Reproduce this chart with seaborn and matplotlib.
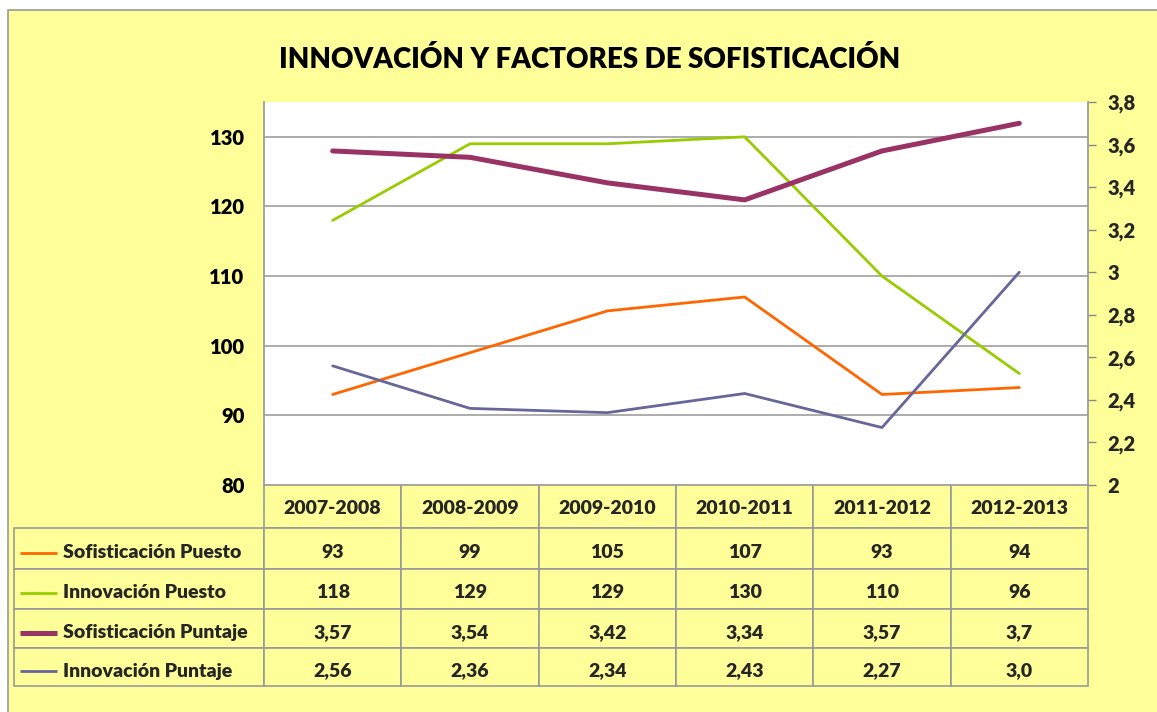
import matplotlib
matplotlib.use("Agg")
import matplotlib.pyplot as plt
from matplotlib.patches import Rectangle
import matplotlib.transforms as mtrans
import seaborn as sns
import pandas as pd

# ---- data ----
periods = ["2007-2008", "2008-2009", "2009-2010", "2010-2011", "2011-2012", "2012-2013"]
sofis_puesto = [93, 99, 105, 107, 93, 94]
innov_puesto = [118, 129, 129, 130, 110, 96]
sofis_puntaje = [3.57, 3.54, 3.42, 3.34, 3.57, 3.70]
innov_puntaje = [2.56, 2.36, 2.34, 2.43, 2.27, 3.00]
series_names = ["Sofisticación Puesto", "Innovación Puesto",
                "Sofisticación Puntaje", "Innovación Puntaje"]
table_text = [
    ["93", "99", "105", "107", "93", "94"],
    ["118", "129", "129", "130", "110", "96"],
    ["3,57", "3,54", "3,42", "3,34", "3,57", "3,7"],
    ["2,56", "2,36", "2,34", "2,43", "2,27", "3,0"],
]
left_ticks = [80, 90, 100, 110, 120, 130]
right_ticks = [2.0, 2.2, 2.4, 2.6, 2.8, 3.0, 3.2, 3.4, 3.6, 3.8]
right_labels = ["2", "2,2", "2,4", "2,6", "2,8", "3", "3,2", "3,4", "3,6", "3,8"]
title = "INNOVACIÓN Y FACTORES DE SOFISTICACIÓN"

colors = ["#FF6600", "#99CC00", "#993366", "#666699"]
widths = [2.0, 2.0, 3.6, 2.0]
YELLOW = "#FFFF99"
GRID = "#A6A6A6"
WEIGHT = "heavy"

sns.set_theme(style="white")
plt.rcParams["font.family"] = ["Lato", "DejaVu Sans"]
plt.rcParams["font.weight"] = WEIGHT

W, H = 1157, 712
fig = plt.figure(figsize=(W / 100, H / 100), dpi=100, facecolor="white")
fig.patches.append(Rectangle((8 / W, -0.05), 1.1, 1 - 10 / H + 0.05,
                             transform=fig.transFigure, facecolor=YELLOW,
                             edgecolor="#999999", linewidth=1.2, zorder=-10))

ax = fig.add_axes([264 / W, 1 - 485 / H, 824 / W, 383 / H])
ax.set_facecolor("white")
ax2 = ax.twinx()

df_left = pd.DataFrame({
    "period": periods * 2,
    "value": sofis_puesto + innov_puesto,
    "serie": [series_names[0]] * 6 + [series_names[1]] * 6,
})
df_right = pd.DataFrame({
    "period": periods * 2,
    "value": sofis_puntaje + innov_puntaje,
    "serie": [series_names[2]] * 6 + [series_names[3]] * 6,
})

for i, name in enumerate(series_names[:2]):
    sns.lineplot(data=df_left[df_left.serie == name], x="period", y="value",
                 ax=ax, color=colors[i], linewidth=widths[i], sort=False,
                 legend=False)
for j, name in enumerate(series_names[2:]):
    i = j + 2
    sns.lineplot(data=df_right[df_right.serie == name], x="period", y="value",
                 ax=ax2, color=colors[i], linewidth=widths[i], sort=False,
                 legend=False)

ax.set_xlim(-0.5, 5.5)
ax.set_ylim(80, 135)
ax2.set_ylim(2.0, 3.8)
ax.set_yticks(left_ticks)
ax.set_yticklabels([str(t) for t in left_ticks], fontsize=14.5, fontweight=WEIGHT)
ax2.set_yticks(right_ticks)
ax2.set_yticklabels(right_labels, fontsize=14.5, fontweight=WEIGHT)
ax.set_xticks([])
ax.set_xlabel("")
ax.set_ylabel("")
ax2.set_ylabel("")
ax2.set_xlabel("")
ax.yaxis.grid(True, color=GRID, linewidth=1.3)
ax.set_axisbelow(True)
ax.tick_params(axis="y", length=0, pad=14, colors="black")
ax2.tick_params(axis="y", length=6, width=1, color="#888888", pad=8, direction="out")
ax2.yaxis.set_ticks_position("right")
for a in (ax, ax2):
    for s in a.spines.values():
        s.set_visible(False)
ax.spines["left"].set_visible(True)
ax.spines["left"].set_color("#999999")
ax2.spines["right"].set_visible(True)
ax2.spines["right"].set_color("#999999")

# ---- data table ----
cell_text = [[series_names[r]] + table_text[r] for r in range(4)]
col_labels = [""] + periods
x0 = (14 - 264) / 824
y0 = (485 - 686) / 383
row_px = [43, 41, 40, 39, 38]
tbl = ax.table(cellText=cell_text, colLabels=col_labels, cellLoc="center",
               bbox=[x0, y0, 1 - x0, -y0])
tbl.auto_set_font_size(False)
lab_w = 250 / 824
dat_w = 1 / 6
# cell texts are positioned in display (pixel) coordinates
shift_body = mtrans.IdentityTransform() + mtrans.Affine2D().translate(0, -4)
shift_head = mtrans.IdentityTransform() + mtrans.Affine2D().translate(0, -2)
for (r, c), cell in tbl.get_celld().items():
    cell.set_facecolor(YELLOW)
    cell.set_edgecolor("#999999")
    cell.set_linewidth(1.2)
    txt = cell.get_text()
    txt.set_fontsize(14)
    txt.set_fontweight(WEIGHT)
    txt.set_transform(shift_head if r == 0 else shift_body)
    cell.set_width(lab_w if c == 0 else dat_w)
    cell.set_height(row_px[r] / 383)
    if c == 0:
        if r == 0:
            cell.visible_edges = "open"
        else:
            txt.set_ha("left")
            cell._loc = "left"
            cell.PAD = 49 / 250

# legend swatches inside label cells
edges = [0.0]
for h in row_px:
    edges.append(edges[-1] - h / 383)
sw_shift = mtrans.ScaledTranslation(0, -4 / 100, fig.dpi_scale_trans)
for k in range(4):
    yc = (edges[k + 1] + edges[k + 2]) / 2
    ax.plot([(20 - 264) / 824, (57 - 264) / 824], [yc, yc],
            transform=ax.transAxes + sw_shift, clip_on=False, color=colors[k],
            linewidth=widths[k], solid_capstyle="butt")

fig.text(589.5 / W, 1 - 60 / H, title, ha="center", va="center",
         fontsize=20, fontweight=WEIGHT, color="black")

fig.savefig("out.png", dpi=100, facecolor=fig.get_facecolor())
